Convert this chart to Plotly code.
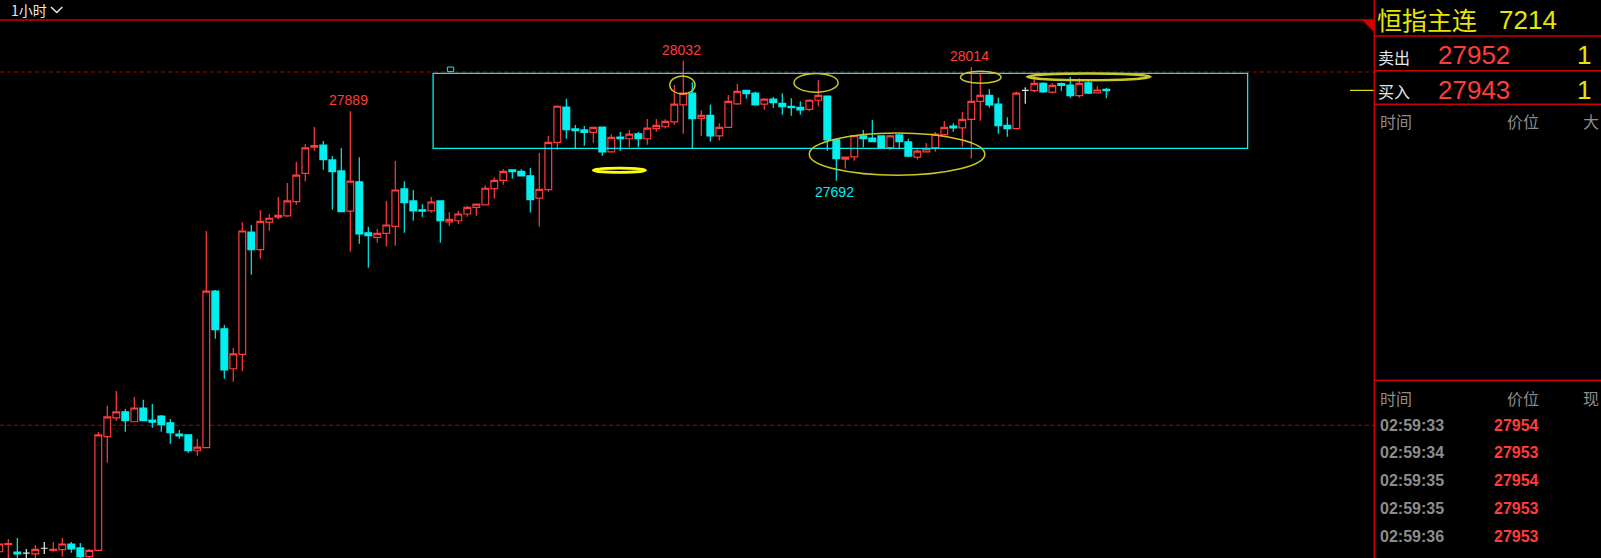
import plotly.graph_objects as go

# ---------------- data (1-hour candles, index 0..123) ----------------
open_ = [26642, 26663, 26641, 26638, 26636, 26652, 26646, 26648, 26664, 26653,
         26628, 26646, 26968, 27021, 27038, 27010, 27049, 27015, 27026, 27007,
         26975, 26973, 26928, 26937, 27380, 27273, 27160, 27201, 27547, 27497,
         27575, 27589, 27593, 27633, 27713, 27787, 27793, 27751, 27720, 27606,
         27689, 27545, 27532, 27543, 27563, 27669, 27635, 27610, 27607, 27635,
         27576, 27579, 27598, 27617, 27624, 27670, 27693, 27723, 27719, 27706,
         27643, 27667, 27801, 27901, 27839, 27836, 27829, 27844, 27774, 27816,
         27811, 27825, 27811, 27840, 27845, 27859, 27907, 27940, 27869, 27877,
         27819, 27843, 27910, 27948, 27940, 27909, 27923, 27911, 27903, 27900,
         27894, 27920, 27932, 27808, 27753, 27760, 27819, 27813, 27819, 27786,
         27822, 27802, 27759, 27774, 27786, 27823, 27847, 27842, 27866, 27917,
         27934, 27909, 27849, 27840, 27948, 27947, 27968, 27943, 27967, 27963,
         27933, 27969, 27941, 27951]
high_ = [26675, 26678, 26681, 26650, 26661, 26670, 26670, 26681, 26670, 26667,
         26650, 26981, 27055, 27097, 27046, 27080, 27072, 27060, 27029, 27018,
         26987, 26975, 26961, 27550, 27383, 27284, 27219, 27575, 27567, 27609,
         27598, 27646, 27686, 27745, 27796, 27844, 27805, 27762, 27785, 27889,
         27759, 27562, 27556, 27635, 27748, 27691, 27666, 27626, 27646, 27635,
         27603, 27607, 27621, 27628, 27679, 27702, 27725, 27725, 27725, 27728,
         27771, 27819, 27906, 27924, 27850, 27847, 27843, 27844, 27824, 27830,
         27836, 27830, 27867, 27867, 27866, 27963, 28032, 27971, 27892, 27907,
         27855, 27935, 27966, 27948, 27944, 27926, 27929, 27940, 27926, 27917,
         27923, 27977, 27932, 27811, 27761, 27822, 27836, 27864, 27819, 27822,
         27822, 27811, 27781, 27799, 27830, 27861, 27855, 27887, 28014, 27994,
         27952, 27928, 27872, 27945, 27957, 27990, 27971, 27968, 27970, 27986,
         27982, 27973, 27960, 27955]
low_ = [26633, 26620, 26618, 26620, 26620, 26636, 26642, 26628, 26639, 26620,
        26620, 26646, 26894, 27013, 26982, 27010, 27013, 26993, 26982, 26948,
        26962, 26922, 26914, 26937, 27245, 27132, 27123, 27154, 27426, 27472,
        27551, 27583, 27590, 27624, 27690, 27777, 27723, 27610, 27605, 27491,
        27514, 27446, 27517, 27506, 27508, 27545, 27579, 27590, 27602, 27517,
        27564, 27570, 27590, 27593, 27623, 27641, 27681, 27698, 27704, 27602,
        27562, 27661, 27780, 27811, 27785, 27791, 27800, 27763, 27774, 27777,
        27787, 27787, 27794, 27831, 27840, 27851, 27825, 27784, 27819, 27803,
        27806, 27843, 27907, 27924, 27907, 27893, 27898, 27879, 27876, 27879,
        27889, 27903, 27777, 27692, 27726, 27749, 27786, 27803, 27784, 27779,
        27784, 27759, 27752, 27774, 27774, 27821, 27831, 27789, 27755, 27862,
        27899, 27825, 27817, 27837, 27910, 27943, 27941, 27939, 27947, 27927,
        27927, 27938, 27941, 27926]
close_ = [26664, 26665, 26636, 26638, 26649, 26652, 26649, 26664, 26650, 26628,
          26646, 26973, 27024, 27038, 27013, 27049, 27013, 27009, 27002, 26979,
          26970, 26928, 26938, 27380, 27271, 27157, 27202, 27550, 27497, 27577,
          27586, 27594, 27635, 27708, 27785, 27792, 27752, 27718, 27605, 27691,
          27542, 27537, 27543, 27567, 27666, 27630, 27607, 27606, 27632, 27579,
          27583, 27598, 27617, 27626, 27671, 27693, 27719, 27718, 27706, 27639,
          27668, 27801, 27903, 27837, 27834, 27829, 27843, 27774, 27815, 27811,
          27824, 27811, 27841, 27849, 27860, 27909, 27940, 27868, 27877, 27819,
          27843, 27917, 27945, 27939, 27907, 27923, 27913, 27902, 27899, 27893,
          27920, 27934, 27808, 27755, 27759, 27820, 27811, 27803, 27784, 27819,
          27803, 27762, 27776, 27782, 27824, 27843, 27842, 27866, 27917, 27934,
          27907, 27848, 27840, 27940, 27948, 27968, 27944, 27962, 27962, 27933,
          27968, 27940, 27949, 27947]

# labelled extremes: candle indices
label_high_idx = [39, 76, 108]
label_low_idx = [93]

# reference price lines
ref_lines = [28000, 27000]

# drawn box and hand-drawn ellipses (candle index / price)
box_zone = dict(x0=48.2, x1=138.7, y0=27784, y1=27996)
handle = dict(x0=49.78, x1=50.49, y0=28001, y1=28014)
ellipses_thin = [(74.5, 77.3, 27938, 27989), (88.3, 93.2, 27943, 27996),
                 (90.0, 109.5, 27708, 27827), (106.8, 111.3, 27968, 28002)]
ellipses_thick = [(114.2, 127.9, 27977, 27996)]
ellipse_bright = (66.0, 71.8, 27716, 27728)
last_price = 27948

# right side panel texts
panel_title = "恒指主连"
panel_code = "7214"
ask_label, ask_price, ask_vol = "卖出", 27952, 1
bid_label, bid_price, bid_vol = "买入", 27943, 1
tick_times = ["02:59:33", "02:59:34", "02:59:35", "02:59:35", "02:59:36"]
tick_prices = [27954, 27953, 27954, 27953, 27953]
period_label = "1小时"

# ---------------- styling / geometry ----------------
RED = '#FF3C3C'
CYAN = '#00F0F0'
WHITE = '#E8E8E8'
YEL = '#E6E600'
OLIVE = '#C8C828'
LINE_RED = '#D00000'
GRAY = '#8C8C8C'
CJK = 'Noto Sans CJK SC'
LAT = 'Liberation Sans'

W, H = 1601, 558
PLOT_R = 1374
PLOT_T = 20
CSTEP = 9.0
x0 = 0.7 / CSTEP
x1 = x0 + PLOT_R / CSTEP
PPX = 2.8305  # price per pixel
y_lo = 28000 - (H - 72) * PPX
y_hi = 28000 + (72 - PLOT_T) * PPX


def px(X):
    return X / PLOT_R


def py(Y):
    return (H - Y) / (H - PLOT_T)


idx = list(range(len(open_)))
norm = [i for i in idx if open_[i] != close_[i]]
doji = [i for i in idx if open_[i] == close_[i]]


def sel(arr, ids):
    return [arr[i] for i in ids]


fig = go.Figure()
fig.add_trace(go.Candlestick(
    x=norm, open=sel(open_, norm), high=sel(high_, norm), low=sel(low_, norm), close=sel(close_, norm),
    increasing=dict(line=dict(color=RED, width=1.2), fillcolor='#000000'),
    decreasing=dict(line=dict(color=CYAN, width=1.2), fillcolor=CYAN),
    whiskerwidth=0, hoverinfo='skip', showlegend=False))
fig.add_trace(go.Candlestick(
    x=doji, open=sel(open_, doji), high=sel(high_, doji), low=sel(low_, doji), close=sel(close_, doji),
    increasing=dict(line=dict(color=WHITE, width=1.2), fillcolor=WHITE),
    decreasing=dict(line=dict(color=WHITE, width=1.2), fillcolor=WHITE),
    whiskerwidth=0, hoverinfo='skip', showlegend=False))

shapes = []
for p in ref_lines:
    shapes.append(dict(type='line', xref='paper', yref='y', x0=0, x1=1, y0=p, y1=p,
                       line=dict(color='#B00000', width=1, dash='4px,3px'), layer='below'))
shapes.append(dict(type='rect', xref='x', yref='y', **box_zone, line=dict(color=CYAN, width=1.3)))
shapes.append(dict(type='rect', xref='x', yref='y', **handle, line=dict(color=CYAN, width=1)))
for (a, b, c, d) in ellipses_thin:
    shapes.append(dict(type='circle', xref='x', yref='y', x0=a, x1=b, y0=c, y1=d,
                       line=dict(color=OLIVE, width=1.5)))
for (a, b, c, d) in ellipses_thick:
    shapes.append(dict(type='circle', xref='x', yref='y', x0=a, x1=b, y0=c, y1=d,
                       line=dict(color=OLIVE, width=2.5)))
a, b, c, d = ellipse_bright
shapes.append(dict(type='circle', xref='x', yref='y', x0=a, x1=b, y0=c, y1=d,
                   line=dict(color='#FFFF00', width=2.8)))
# last price marker
shapes.append(dict(type='line', xref='paper', yref='y', x0=px(1350), x1=px(1374),
                   y0=last_price, y1=last_price, line=dict(color=YEL, width=1.2)))
# frame: top red line, triangle, panel divider and rows
shapes.append(dict(type='line', xref='paper', yref='paper', x0=0, x1=px(1374), y0=py(20), y1=py(20),
                   line=dict(color=LINE_RED, width=1.5)))
shapes.append(dict(type='path', xref='paper', yref='paper',
                   path=f"M {px(1362)},{py(20)} L {px(1374)},{py(20)} L {px(1374)},{py(32)} Z",
                   fillcolor=LINE_RED, line=dict(color=LINE_RED, width=0)))
shapes.append(dict(type='line', xref='paper', yref='paper', x0=px(1374.3), x1=px(1374.3), y0=py(0), y1=py(H),
                   line=dict(color=LINE_RED, width=1.5)))
for Y in [36, 70.7, 104.3, 380.3]:
    shapes.append(dict(type='line', xref='paper', yref='paper', x0=px(1374), x1=px(W), y0=py(Y), y1=py(Y),
                       line=dict(color=LINE_RED, width=1.5)))
# chevron next to period label
shapes.append(dict(type='path', xref='paper', yref='paper',
                   path=f"M {px(51)},{py(7)} L {px(56.7)},{py(12.5)} L {px(62.4)},{py(7)}",
                   line=dict(color=WHITE, width=1.5)))

ann = []
for i in label_high_idx:
    ann.append(dict(x=i, y=high_[i], xref='x', yref='y', text=str(high_[i]), showarrow=False,
                    yanchor='middle', yshift=11, xshift=-2, font=dict(family=LAT, size=14, color=RED)))
for i in label_low_idx:
    ann.append(dict(x=i, y=low_[i], xref='x', yref='y', text=str(low_[i]), showarrow=False,
                    yanchor='middle', yshift=-11, xshift=-2, font=dict(family=LAT, size=14, color=CYAN)))


def txt(X, Y, s, size, color, fam, anchor='left', bold=False):
    if bold:
        s = f"<b>{s}</b>"
    ann.append(dict(x=px(X), y=py(Y), xref='paper', yref='paper', text=s, showarrow=False,
                    xanchor=anchor, yanchor='middle', font=dict(family=fam, size=size, color=color)))


txt(9, 10, period_label, 14, WHITE, CJK)
txt(1375, 19, panel_title, 25, YEL, CJK)
txt(1497, 20, panel_code, 26, YEL, LAT)
txt(1376, 57, ask_label, 16, WHITE, CJK)
txt(1436, 55, str(ask_price), 26, RED, LAT)
txt(1593, 55, str(ask_vol), 26, YEL, LAT, 'right')
txt(1376, 91, bid_label, 16, WHITE, CJK)
txt(1436, 90, str(bid_price), 26, RED, LAT)
txt(1593, 90, str(bid_vol), 26, YEL, LAT, 'right')
for Y, lastcol in [(121.5, "大"), (397.5, "现")]:
    txt(1378, Y, "时间", 16, GRAY, CJK)
    txt(1541, Y, "价位", 16, GRAY, CJK, 'right')
    txt(1581, Y, lastcol, 16, GRAY, CJK)
for j, (t, p) in enumerate(zip(tick_times, tick_prices)):
    Y = 425 + 27.8 * j
    txt(1378, Y, t, 16, GRAY, LAT, bold=True)
    txt(1541, Y, str(p), 16, RED, LAT, 'right', bold=True)

fig.update_layout(
    width=W, height=H, margin=dict(l=0, r=W - PLOT_R, t=PLOT_T, b=0, pad=0),
    paper_bgcolor='#000000', plot_bgcolor='#000000',
    showlegend=False, hovermode=False, boxgap=0.25, boxgroupgap=0,
    xaxis=dict(range=[x0, x1], visible=False, showgrid=False, zeroline=False,
               rangeslider=dict(visible=False), fixedrange=True),
    yaxis=dict(range=[y_lo, y_hi], visible=False, showgrid=False, zeroline=False, fixedrange=True),
    shapes=shapes, annotations=ann,
)

fig.write_html("out.html", config={'displayModeBar': False, 'staticPlot': True},
               post_script="document.body.style.margin='0';document.body.style.overflow='hidden';")
